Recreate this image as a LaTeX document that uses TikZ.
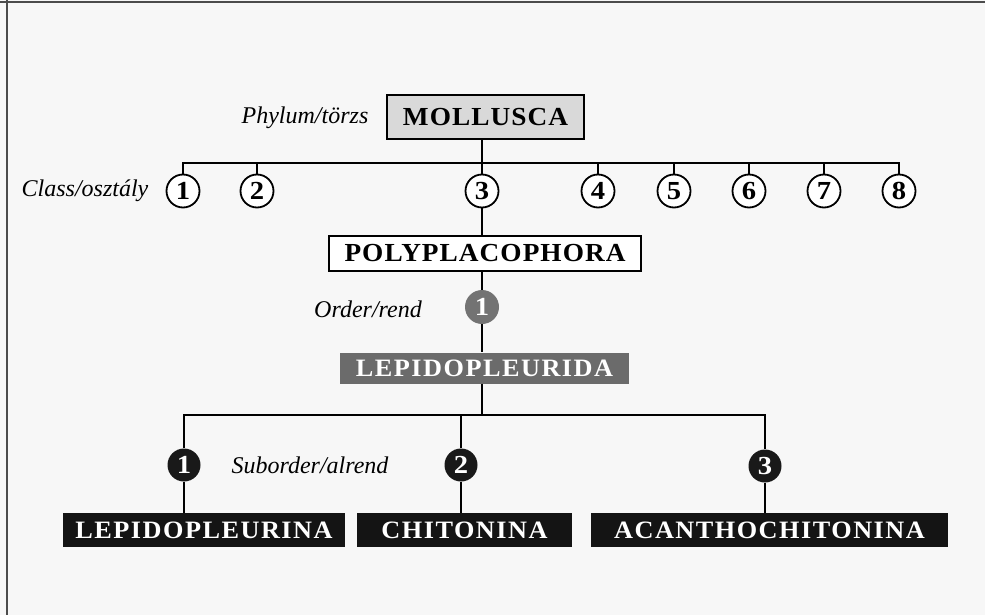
\documentclass[tikz,border=0pt]{standalone}
\usepackage{fontspec}
\usepackage{xcolor}
\usepackage{tikz}
\setmainfont{Liberation Serif}
\newfontfamily\spacedserif[LetterSpace=4,FakeStretch=1.05]{Liberation Serif}
\newfontfamily\whiteserif[LetterSpace=6,FakeStretch=1.05]{Liberation Serif}
\newfontfamily\wideserif[FakeStretch=1.1]{Liberation Serif}
\newcommand{\rankfont}{\fontsize{24}{28}\selectfont\itshape}
\newcommand{\namefont}{\spacedserif\fontsize{26}{30}\selectfont\bfseries}
\newcommand{\darkfont}{\whiteserif\fontsize{25}{29}\selectfont\bfseries}
\newcommand{\numfont}{\wideserif\fontsize{26}{30}\selectfont\bfseries}

\begin{document}
\begin{tikzpicture}[x=1pt,y=-1pt,
		conn/.style={line width=1.4pt,black},
		clsnum/.style={shape=circle,draw=black,line width=1.8pt,fill=white,inner sep=0pt,minimum size=33pt,font=\numfont},
		ordnum/.style={shape=circle,fill=black!55,text=white,inner sep=0pt,minimum size=34pt,font=\numfont},
		subnum/.style={shape=circle,fill=black!90,text=white,inner sep=0pt,minimum size=33pt,font=\numfont},
		rank/.style={font=\rankfont},
		lightbox/.style={draw=black,line width=1.5pt,inner sep=0pt,font=\namefont},
		darkbox/.style={inner sep=0pt,text=white,font=\darkfont}]
			\useasboundingbox (0,0) rectangle (985,615);
			\fill[black!3] (0,0) rectangle (985,615);
			\draw[black!70,line width=1.5pt] (0,2) -- (985,2);
			\draw[black!70,line width=1.5pt] (7,0) -- (7,615);

			%% phylum
			\node[lightbox,fill=black!15,minimum width=197pt,minimum height=44pt] (moll) at (485.5,117) {MOLLUSCA};
			\node[rank] (phylum) at (305,118) {Phylum/törzs};

			%% classes
			\node[rank] (class) at (85,191) {Class/osztály};
			\node[clsnum] (cls1) at (183,191) {1};
			\node[clsnum] (cls2) at (257,191) {2};
			\node[clsnum] (cls3) at (482,191) {3};
			\node[clsnum] (cls4) at (598,191) {4};
			\node[clsnum] (cls5) at (674,191) {5};
			\node[clsnum] (cls6) at (749,191) {6};
			\node[clsnum] (cls7) at (824,191) {7};
			\node[clsnum] (cls8) at (899,191) {8};
			\node[lightbox,fill=white,minimum width=312pt,minimum height=35pt] (poly) at (485,253.5) {POLYPLACOPHORA};

			%% order
			\node[rank] (order) at (368,309) {Order/rend};
			\node[ordnum] (ord1) at (482,307) {1};
			\node[darkbox,fill=black!58,minimum width=289pt,minimum height=31pt] (lepa) at (484.5,368) {LEPIDOPLEURIDA};

			%% suborders
			\node[rank] (suborder) at (310,465) {Suborder/alrend};
			\node[subnum] (sub1) at (184,465) {1};
			\node[subnum] (sub2) at (461,465) {2};
			\node[subnum] (sub3) at (765,466) {3};
			\node[darkbox,fill=black!92,minimum width=282pt,minimum height=34pt] (lepi) at (204,530) {LEPIDOPLEURINA};
			\node[darkbox,fill=black!92,minimum width=215pt,minimum height=34pt] (chit) at (464.5,530) {CHITONINA};
			\node[darkbox,fill=black!92,minimum width=357pt,minimum height=34pt] (acan) at (769.5,530) {ACANTHOCHITONINA};

			%% lines
			\coordinate (bus) at (482,163);
			\coordinate (sbus) at (482,415);
			\draw[conn] (moll.south -| bus) -- (bus);
			\draw[conn] (cls1.north) |- (bus) -| (cls8.north);
			\draw[conn] (cls2.north) -- (cls2.north |- bus);
			\draw[conn] (cls3.north) -- (cls3.north |- bus);
			\draw[conn] (cls4.north) -- (cls4.north |- bus);
			\draw[conn] (cls5.north) -- (cls5.north |- bus);
			\draw[conn] (cls6.north) -- (cls6.north |- bus);
			\draw[conn] (cls7.north) -- (cls7.north |- bus);
			\draw[conn] (cls3.south) -- (cls3.south |- poly.north);
			\draw[conn] (poly.south -| ord1) -- (ord1.north);
			\draw[conn] (ord1.south) -- (ord1.south |- lepa.north);
			\draw[conn] (lepa.south -| sbus) -- (sbus);
			\draw[conn] (sub1.north) |- (sbus) -| (sub3.north);
			\draw[conn] (sub2.north) -- (sub2.north |- sbus);
			\draw[conn] (sub1.south) -- (sub1.south |- lepi.north);
			\draw[conn] (sub2.south) -- (sub2.south |- chit.north);
			\draw[conn] (sub3.south) -- (sub3.south |- acan.north);
		\end{tikzpicture}
\end{document}
